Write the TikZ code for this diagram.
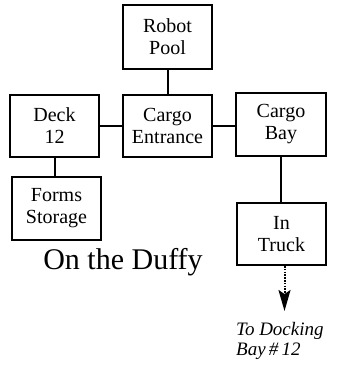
\documentclass[tikz,border=0pt]{standalone}
\usepackage{fontspec}
\setmainfont{Liberation Serif}
\usetikzlibrary{arrows.meta}
\begin{document}
\begin{tikzpicture}[x=1pt,y=-1pt,
  room/.style={draw,line width=2pt,minimum width=89pt,minimum height=62pt,inner sep=0pt,align=center,font=\fontsize{20}{22}\selectfont},
  link/.style={line width=2pt}]
\useasboundingbox (0,0) rectangle (341,366);
\node[room,minimum height=64pt] (robot) at (167.5,37) {Robot\\Pool};
\node[room] (deck) at (54.5,126) {Deck\\12};
\node[room] (entr) at (167.5,126) {Cargo\\Entrance};
\node[room,minimum width=90pt,minimum height=63pt] (bay) at (281,124.5) {Cargo\\Bay};
\node[room,minimum height=63pt] (forms) at (56.5,208.5) {Forms\\Storage};
\node[room] (truck) at (281.5,234) {In\\Truck};
\node[font=\fontsize{30}{32}\selectfont] (title) at (123,262) {On the Duffy};
\node[anchor=north west,inner sep=0pt,align=left,font=\fontsize{19}{20}\selectfont\itshape] (dest) at (236,322) {To Docking\\Bay\,\#\,12};
\coordinate (tip) at (284.5,311);
\draw[link] (robot) -- (entr);
\draw[link] (deck) -- (entr);
\draw[link] (entr.east) -- (bay.west |- entr.east);
\draw[link] (deck.south) -- (deck.south |- forms.north);
\draw[link] (bay.south) -- (bay.south |- truck.north);
\draw[line width=2pt,dash pattern=on 1.5pt off 1.3pt,-{Stealth[width=12pt,length=21pt,inset=4pt]}] (truck.south -| tip) -- (tip);
\end{tikzpicture}
\end{document}
